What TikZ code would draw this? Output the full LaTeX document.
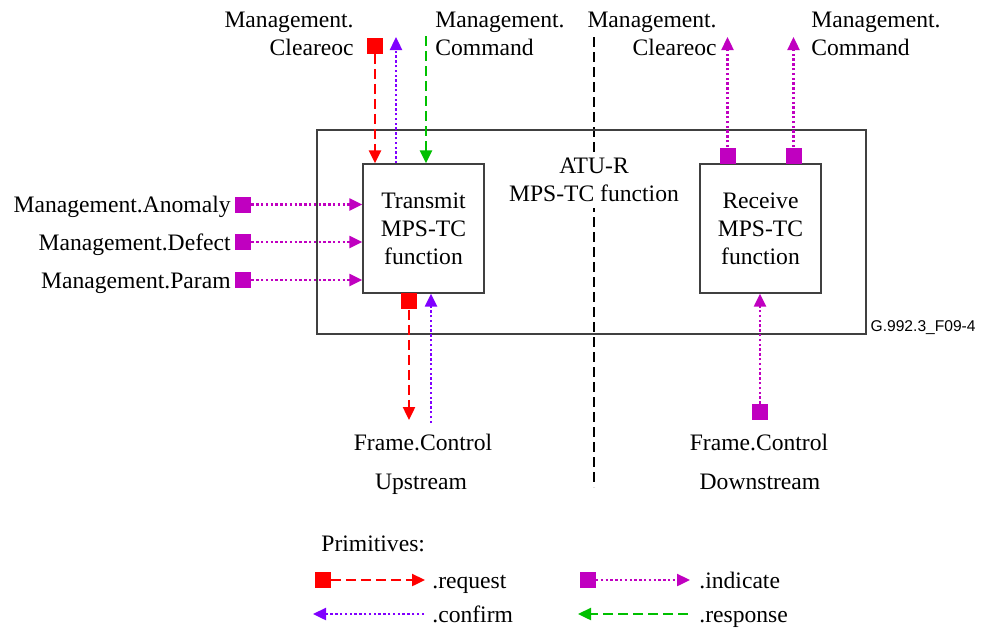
\documentclass[tikz,border=0pt]{standalone}
\usepackage{fontspec}
\setmainfont{Liberation Serif}
\newfontfamily\labsans{Liberation Sans}
\usetikzlibrary{arrows.meta}
\definecolor{reqc}{RGB}{255,0,0}
\definecolor{cnfc}{RGB}{128,0,255}
\definecolor{rspc}{RGB}{0,192,0}
\definecolor{indc}{RGB}{192,0,192}
\definecolor{boxc}{RGB}{64,64,64}
\tikzset{
  mfont/.style={font=\fontsize{11.8}{14}\selectfont},
  txt/.style={inner sep=0pt, mfont, text height=11pt, text depth=3pt},
  mtxt/.style={inner sep=0pt, mfont},
  fbox/.style={draw=boxc, line width=0.7pt, inner sep=0pt},
  sq/.style={inner sep=0pt, minimum size=8pt, draw=none, fill=#1},
  tip/.style={-{Triangle[width=6pt,length=6.5pt]}},
  req/.style={reqc, line width=1.2pt, dash pattern=on 5pt off 2.5pt, tip},
  rsp/.style={rspc, line width=1.2pt, dash pattern=on 5pt off 2.5pt, tip},
  cnf/.style={cnfc, line width=1.2pt, dash pattern=on 1.2pt off 1.2pt, tip},
  ind/.style={indc, line width=1.2pt, dash pattern=on 1.2pt off 1.2pt, tip},
}
\begin{document}
\begin{tikzpicture}[x=0.5pt,y=-0.5pt]
\useasboundingbox (0,0) rectangle (981,628);
% divider
\coordinate (dtop) at (594,37);
\coordinate (dbot) at (594,487);
\draw[black, line width=1.2pt, dash pattern=on 5pt off 2.5pt] (dtop) -- (dbot);
% boxes
\node[fbox, minimum width=274.5pt, minimum height=102pt] (outer) at (591.5,232) {};
\node[fbox, fill=white, minimum width=60.5pt, minimum height=64.5pt, align=center, mfont] (tx) at (423.5,228.5) {Transmit\\MPS-TC\\function};
\node[fbox, fill=white, minimum width=60.5pt, minimum height=64.5pt, align=center, mfont] (rx) at (760.5,228.5) {Receive\\MPS-TC\\function};
\node[mtxt, fill=white, inner sep=3pt, align=center] (atu) at (594,180) {ATU-R\\MPS-TC function};
\node[anchor=north east, inner sep=0pt, font=\labsans\fontsize{7.8}{9}\selectfont] (fig) at (976,320) {G.992.3\_F09-4};
% top left
\node[mtxt, align=right, anchor=east] (lclr) at (354,34) {Management.\\Cleareoc};
\node[mtxt, align=left, anchor=west] (lcmd) at (435,34) {Management.\\Command};
\node[sq=reqc] (sqreq) at (375,45.5) {};
\draw[req] (sqreq.south) -- (sqreq.south |- tx.north);
\coordinate (cnftop) at (396,37);
\draw[cnf] (cnftop |- tx.north) -- (cnftop);
\coordinate (rsptop) at (426,36);
\draw[rsp] (rsptop) -- (rsptop |- tx.north);
% top right
\node[mtxt, align=right, anchor=east] (rclr) at (717,34) {Management.\\Cleareoc};
\node[mtxt, align=left, anchor=west] (rcmd) at (811,34) {Management.\\Command};
\node[sq=indc, anchor=south] (sqclr) at (727.5,164) {};
\node[sq=indc, anchor=south] (sqcmd) at (793.5,164) {};
\coordinate (clrtop) at (727.5,37);
\coordinate (cmdtop) at (793.5,37);
\draw[ind] (sqclr.north) -- (clrtop);
\draw[ind] (sqcmd.north) -- (cmdtop);
% left inputs
\node[sq=indc] (sqano) at (243,204.5) {};
\node[sq=indc] (sqdef) at (243,242) {};
\node[sq=indc] (sqpar) at (243,280) {};
\node[txt, anchor=east] (lano) at (231,204.5) {Management.Anomaly};
\node[txt, anchor=east] (ldef) at (231,242) {Management.Defect};
\node[txt, anchor=east] (lpar) at (231,280) {Management.Param};
\draw[ind] (sqano.east) -- (sqano.east -| tx.west);
\draw[ind] (sqdef.east) -- (sqdef.east -| tx.west);
\draw[ind] (sqpar.east) -- (sqpar.east -| tx.west);
% bottom transmit
\node[sq=reqc, anchor=north] (sqfc) at (409,293) {};
\coordinate (fcbot) at (409,420);
\draw[req] (sqfc.south) -- (fcbot);
\coordinate (fccnf) at (431,423);
\draw[cnf] (fccnf) -- (fccnf |- tx.south);
\node[txt] (lfcu) at (423,442) {Frame.Control};
\node[txt] (lup) at (421,481.5) {Upstream};
% bottom receive
\node[sq=indc] (sqfd) at (760,412) {};
\draw[ind] (sqfd.north) -- (sqfd.north |- rx.south);
\node[txt] (lfcd) at (759,442) {Frame.Control};
\node[txt] (ldown) at (760,481.5) {Downstream};
% legend
\node[txt, anchor=west] (lprim) at (321,543) {Primitives:};
\node[sq=reqc] (lgreq) at (322.5,580) {};
\coordinate (lgreqe) at (425,580);
\draw[req] (lgreq.east) -- (lgreqe);
\node[txt, anchor=west] (treq) at (432,580) {.request};
\node[sq=indc] (lgind) at (587.5,580) {};
\coordinate (lginde) at (690,580);
\draw[ind] (lgind.east) -- (lginde);
\node[txt, anchor=west] (tind) at (699,580) {.indicate};
\coordinate (lgcnfs) at (424,614);
\coordinate (lgcnfe) at (313,614);
\draw[cnf] (lgcnfs) -- (lgcnfe);
\node[txt, anchor=west] (tcnf) at (432,614) {.confirm};
\coordinate (lgrsps) at (688,614);
\coordinate (lgrspe) at (578,614);
\draw[rsp] (lgrsps) -- (lgrspe);
\node[txt, anchor=west] (trsp) at (699,614) {.response};
\end{tikzpicture}
\end{document}
